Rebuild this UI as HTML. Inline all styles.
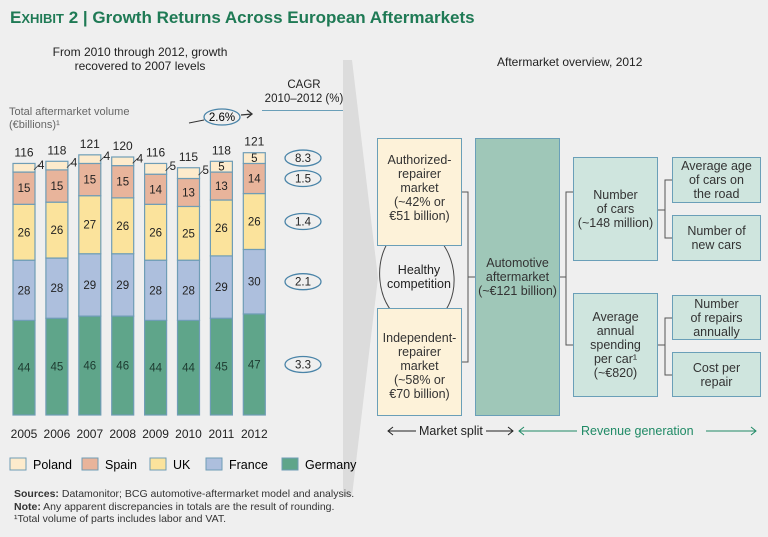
<!DOCTYPE html>
<html><head><meta charset="utf-8"><style>
body{margin:0;width:768px;height:537px;background:#efefef;font-family:"Liberation Sans",sans-serif;overflow:hidden;position:relative;color:#222}
.t{position:absolute;white-space:nowrap}
.box{position:absolute;box-sizing:border-box;border:1.5px solid #6a9fb8;display:flex;align-items:center;justify-content:center;text-align:center;font-size:12.5px;line-height:14px;color:#333}
</style></head><body>
<div class="t" style="left:10px;top:8px;font-size:17px;font-weight:bold;color:#1f7a55">E<span style="font-size:13px">XHIBIT</span> 2 | Growth Returns Across European Aftermarkets</div>
<div class="t" style="left:40px;top:45px;width:200px;text-align:center;font-size:12px;line-height:14px">From 2010 through 2012, growth<br>recovered to 2007 levels</div>
<div class="t" style="left:497px;top:55px;font-size:12px">Aftermarket overview, 2012</div>
<div class="t" style="left:9px;top:106px;font-size:11px;color:#666;line-height:13px">Total aftermarket volume<br>(€billions)¹</div>
<div class="t" style="left:262px;top:78px;width:84px;text-align:center;font-size:11.5px;line-height:14px;border-bottom:1.5px solid #6a9fb8;padding-bottom:4px">CAGR<br>2010–2012 (%)</div>
<svg id="c" width="768" height="537" style="position:absolute;left:0;top:0"></svg>
<div class="box" style="left:377px;top:138px;width:85px;height:108px;background:#fdf2d9;align-items:flex-start;padding-top:14px">Authorized-<br>repairer<br>market<br>(~42% or<br>€51 billion)</div>
<div class="box" style="left:377px;top:308px;width:85px;height:108px;background:#fdf2d9;align-items:flex-end;padding-bottom:14px">Independent-<br>repairer<br>market<br>(~58% or<br>€70 billion)</div>
<div class="t" style="left:383px;top:263px;width:72px;text-align:center;font-size:12.5px;line-height:14px">Healthy<br>competition</div>
<div class="box" style="left:475px;top:138px;width:85px;height:278px;background:#9fc7b8">Automotive<br>aftermarket<br>(~€121 billion)</div>
<div class="box" style="left:573px;top:157px;width:85px;height:104px;background:#cfe5de;align-items:flex-start;padding-top:30px">Number<br>of cars<br>(~148 million)</div>
<div class="box" style="left:573px;top:293px;width:85px;height:104px;background:#cfe5de">Average<br>annual<br>spending<br>per car¹<br>(~€820)</div>
<div class="box" style="left:672px;top:157px;width:89px;height:46px;background:#cfe5de">Average age<br>of cars on<br>the road</div>
<div class="box" style="left:672px;top:215px;width:89px;height:46px;background:#cfe5de">Number of<br>new cars</div>
<div class="box" style="left:672px;top:295px;width:89px;height:45px;background:#cfe5de">Number<br>of repairs<br>annually</div>
<div class="box" style="left:672px;top:352px;width:89px;height:45px;background:#cfe5de">Cost per<br>repair</div>
<div class="t" style="left:417px;top:424px;font-size:12.5px;background:#efefef;padding:0 2px">Market split</div>
<div class="t" style="left:578px;top:424px;font-size:12.5px;color:#1f8a65;background:#efefef;padding:0 3px">Revenue generation</div>
<div class="t" style="left:14px;top:488px;font-size:10.5px;line-height:12.5px;color:#333"><b>Sources:</b> Datamonitor; BCG automotive-aftermarket model and analysis.<br><b>Note:</b> Any apparent discrepancies in totals are the result of rounding.<br>¹Total volume of parts includes labor and VAT.</div>
<script>
const years=["2005","2006","2007","2008","2009","2010","2011","2012"];
const totals=[116,118,121,120,116,115,118,121];
const germany=[44,45,46,46,44,44,45,47];
const france=[28,28,29,29,28,28,29,30];
const uk=[26,26,27,26,26,25,26,26];
const spain=[15,15,15,15,14,13,13,14];
const poland=[4,4,4,4,5,5,5,5];
const cagr=["3.3","2.1","1.4","1.5","8.3"];
const seriesNames=["Germany","France","UK","Spain","Poland"];
const NS="http://www.w3.org/2000/svg",svg=document.getElementById('c');
function el(t,a,p){const e=document.createElementNS(NS,t);for(const k in a)e.setAttribute(k,a[k]);(p||svg).appendChild(e);return e;}
const base=415,k=2.15,bw=22;
const xs=i=>13+i*32.9;
const ys=v=>base-v*k;
const series=[germany,france,uk,spain,poland];
const cols=["#5fa58a","#adbfdd","#fbe39c","#e8b49b","#fdebcc"];
const txtCols=["#1d3b30","#222","#222","#222","#222"];
// chevron
el('polygon',{points:"343,60 352,60 378,278 352,496 343,496",fill:"#dcdcdc"});
years.forEach((y,i)=>{
  let cum=0;const x=xs(i);
  series.forEach((s,j)=>{
    const v=s[i];
    const r=el('rect',{x:x,y:ys(cum+v),width:bw,height:v*k,fill:cols[j],stroke:"#6f9db6","stroke-width":1.2});
    
    
    if(j<4||(i>=6)){
      const t=el('text',{x:x+bw/2,y:ys(cum+v/2)+4,"text-anchor":"middle","font-size":11.5,fill:txtCols[j]});
      t.textContent=v;
      
      
    } else {
      el('line',{x1:x+bw-1,y1:ys(cum+v/2)+2,x2:x+bw+4,y2:ys(cum+v/2)-3,stroke:"#333","stroke-width":0.8});
      const t=el('text',{x:x+bw+3,y:ys(cum+v/2)+1,"font-size":11.5,fill:"#222"});
      t.textContent=v;
      
      
    }
    cum+=v;
  });
  const tt=el('text',{x:x+bw/2,y:ys(cum)-7,"text-anchor":"middle","font-size":12,fill:"#222"});
  tt.textContent=totals[i];
  
  
  const yl=el('text',{x:x+bw/2,y:438,"text-anchor":"middle","font-size":12,fill:"#222"});
  yl.textContent=y;
  
  
});
let cum2=0;
series.forEach((s,j)=>{
  const v=s[7];const cy=ys(cum2+v/2);cum2+=v;
  el('ellipse',{cx:303,cy:cy,rx:18,ry:8,fill:"none",stroke:"#4a84a8","stroke-width":1.3});
  const t=el('text',{x:303,y:cy+4,"text-anchor":"middle","font-size":11.5,fill:"#222"});
  t.textContent=cagr[j];
  
  
});
el('ellipse',{cx:222,cy:117,rx:18,ry:8,fill:"none",stroke:"#4a84a8","stroke-width":1.3});
const g=el('text',{x:222,y:121,"text-anchor":"middle","font-size":11.5});g.textContent="2.6%";


el('line',{x1:189,y1:123,x2:204,y2:120,stroke:"#333"});
el('path',{d:"M241,115 L252,114 M247,110 L252,114 L247,118",stroke:"#333",fill:"none","stroke-width":1.3});
const legNames=["Poland","Spain","UK","France","Germany"];
const legCols=["#fdebcc","#e8b49b","#fbe39c","#adbfdd","#5fa58a"];
const legX=[10,82,150,206,282];
legNames.forEach((n,i)=>{
  const r=el('rect',{x:legX[i],y:458,width:16,height:12,fill:legCols[i],stroke:"#6f9db6"});
  
  
  const t=el('text',{x:legX[i]+23,y:469,"font-size":12.5});t.textContent=n;
  
  
});
const L=(d,c)=>el('path',{d:d,stroke:c||"#555",fill:"none","stroke-width":1});
L("M462,192 H468 V362 H462 M468,277 H475");
L("M560,277 H566 V192 H573 M566,277 V345 H573");
L("M658,210 H665 V180 H672 M665,210 V238 H672");
L("M658,345 H665 V318 H672 M665,345 V375 H672");
el('path',{d:"M397,233 C372,250 372,310 410,325",stroke:"#444",fill:"none"});
el('path',{d:"M404,320 L412,326 L403,328",stroke:"#222",fill:"#222"});
el('path',{d:"M434,321 C462,305 462,250 426,228",stroke:"#444",fill:"none"});
el('path',{d:"M424,224 L430,232 L433,226 Z",stroke:"#222",fill:"#222"});
L("M388,431 H416 M393,427 L388,431 L393,435","#222");
L("M486,431 H513 M508,427 L513,431 L508,435","#222");
L("M519,431 H577 M524,427 L519,431 L524,435","#1f8a65");
L("M706,431 H756 M751,427 L756,431 L751,435","#1f8a65");
</script>
</body></html>
